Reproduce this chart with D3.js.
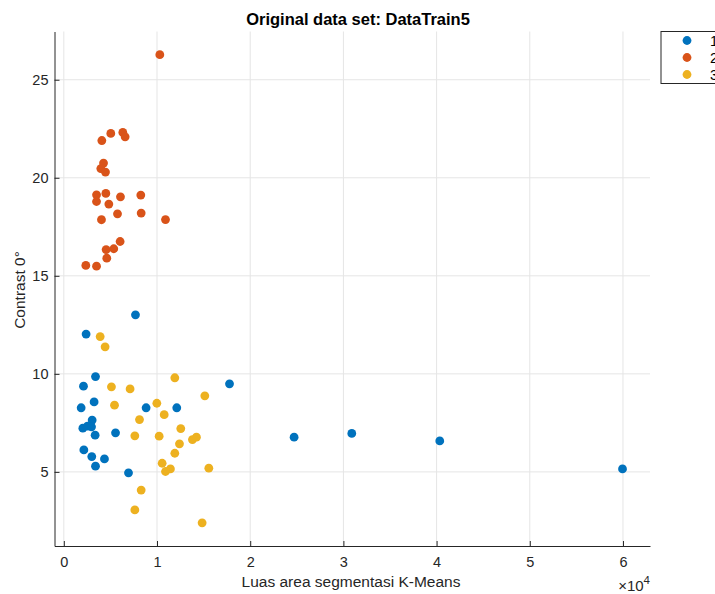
<!DOCTYPE html>
<html>
<head>
<meta charset="utf-8">
<script src="https://cdn.jsdelivr.net/npm/d3@7"></script>
<style>
  body { margin: 0; background: #fff; }
  svg { font-family: "Liberation Sans", Arial, sans-serif; }
</style>
</head>
<body>
<div id="plot"></div>
<script>
// cluster 1 (blue)
const x1 = [7690, 2390, 3400, 2110, 17780, 3250, 1860, 8830, 12120, 3040, 2040, 2540,
            2970, 3360, 5550, 2150, 3000, 4360, 3400, 6940, 24710, 30900, 40340, 59950];
const y1 = [13.01, 12.03, 9.86, 9.37, 9.49, 8.57, 8.27, 8.27, 8.27, 7.64, 7.23, 7.33,
            7.30, 6.87, 6.99, 6.12, 5.78, 5.66, 5.29, 4.95, 6.77, 6.96, 6.58, 5.15];
// cluster 2 (orange)
const x2 = [10300, 4080, 5040, 6330, 6580, 4260, 3970, 4470, 3510, 4510, 6080, 8260,
            3510, 4830, 5760, 8300, 4040, 10910, 6040, 4540, 5360, 4610, 2360, 3510];
const y2 = [26.28, 21.90, 22.26, 22.31, 22.09, 20.75, 20.47, 20.29, 19.13, 19.20, 19.03, 19.12,
            18.79, 18.66, 18.16, 18.20, 17.86, 17.87, 16.75, 16.34, 16.38, 15.90, 15.53, 15.49];
// cluster 3 (yellow)
const x3 = [3900, 4430, 11910, 5110, 7110, 15130, 5440, 9980, 10770, 8120, 12550, 7620,
            10230, 13800, 14230, 12410, 11910, 10550, 11440, 10910, 15560, 8300, 7620, 14840];
const y3 = [11.90, 11.38, 9.80, 9.34, 9.23, 8.88, 8.40, 8.50, 7.92, 7.67, 7.21, 6.84,
            6.82, 6.65, 6.77, 6.43, 5.95, 5.44, 5.15, 5.02, 5.19, 4.07, 3.06, 2.40];

const groups = ["1", "2", "3"];
const colors = ["#0072BD", "#D95319", "#EDB120"];
const xTicks = [0, 10000, 20000, 30000, 40000, 50000, 60000];
const yTicks = [5, 10, 15, 20, 25];

const series = [
  { name: groups[0], xs: x1, ys: y1 },
  { name: groups[1], xs: x2, ys: y2 },
  { name: groups[2], xs: x3, ys: y3 }
];

const W = 715, H = 594;
const pl = 54.5, pr = 650, pt = 31.5, pb = 546;

const svg = d3.select("#plot").append("svg")
    .attr("width", W)
    .attr("height", H);

const x = d3.scaleLinear().domain([-1000, 62900]).range([pl, pr]);
const y = d3.scaleLinear().domain([1.22, 27.46]).range([pb, pt]);

// grid
svg.append("g").selectAll("line")
  .data(xTicks).enter().append("line")
    .attr("x1", d => x(d)).attr("x2", d => x(d))
    .attr("y1", pt).attr("y2", pb)
    .attr("stroke", "#e5e5e5");
svg.append("g").selectAll("line")
  .data(yTicks).enter().append("line")
    .attr("x1", pl).attr("x2", pr)
    .attr("y1", d => y(d)).attr("y2", d => y(d))
    .attr("stroke", "#e5e5e5");

// axes (ticks point inward)
const xAxis = svg.append("g")
    .attr("transform", `translate(0,${pb})`)
    .call(d3.axisBottom(x).tickValues(xTicks).tickSizeInner(-5).tickSizeOuter(0)
      .tickPadding(11).tickFormat(d => d / 10000));
const yAxis = svg.append("g")
    .attr("transform", `translate(${pl},0)`)
    .call(d3.axisLeft(y).tickValues(yTicks).tickSizeInner(-5).tickSizeOuter(0)
      .tickPadding(6));

[xAxis, yAxis].forEach(a => {
  a.select(".domain").attr("stroke", "#262626");
  a.selectAll(".tick line").attr("stroke", "#262626");
  a.selectAll(".tick text").attr("fill", "#262626")
    .style("font-size", "14.5px")
    .style("font-family", "'Liberation Sans', Arial, sans-serif");
});

// points
series.forEach((s, i) => {
  svg.append("g").selectAll("circle")
    .data(s.xs.map((v, j) => [v, s.ys[j]]))
    .enter().append("circle")
      .attr("cx", d => x(d[0]))
      .attr("cy", d => y(d[1]))
      .attr("r", 4.4)
      .attr("fill", colors[i]);
});

// title and labels
svg.append("text")
    .attr("x", 358)
    .attr("y", 25)
    .attr("text-anchor", "middle")
    .style("font-size", "16.5px")
    .style("font-weight", "bold")
    .attr("fill", "#000")
    .text("Original data set: DataTrain5");

svg.append("text")
    .attr("x", 351)
    .attr("y", 587)
    .attr("text-anchor", "middle")
    .style("font-size", "15.5px")
    .attr("fill", "#262626")
    .text("Luas area segmentasi K-Means");

svg.append("text")
    .attr("transform", `translate(25,290) rotate(-90)`)
    .attr("text-anchor", "middle")
    .style("font-size", "15.5px")
    .attr("fill", "#262626")
    .text("Contrast 0°");

const exp = svg.append("text")
    .attr("x", pr)
    .attr("y", 591)
    .attr("text-anchor", "end")
    .style("font-size", "15px")
    .attr("fill", "#262626");
exp.append("tspan").text("×10");
exp.append("tspan").attr("dy", -7).style("font-size", "11.5px").text("4");

// legend
const lg = svg.append("g").attr("transform", "translate(661,31.5)");
lg.append("rect")
    .attr("width", 60).attr("height", 52)
    .attr("fill", "#fff").attr("stroke", "#262626").attr("stroke-width", 1);
groups.forEach((g, i) => {
  lg.append("circle")
    .attr("cx", 26).attr("cy", 9 + i * 17)
    .attr("r", 4.4).attr("fill", colors[i]);
  lg.append("text")
    .attr("x", 49).attr("y", 9 + i * 17 + 5)
    .style("font-size", "14.5px")
    .attr("fill", "#000")
    .text(g);
});
</script>
</body>
</html>
